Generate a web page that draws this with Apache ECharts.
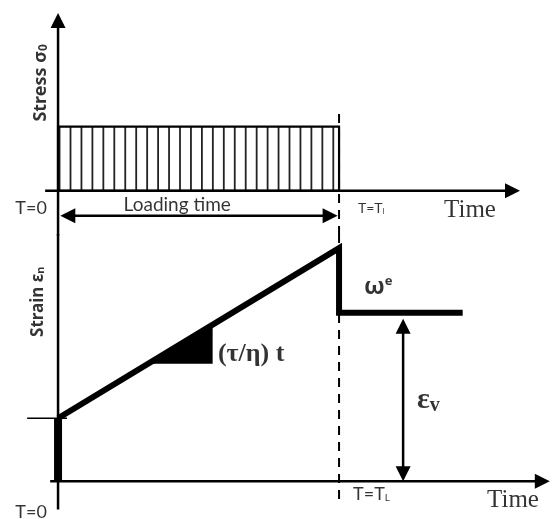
<!DOCTYPE html>
<html>
<head>
<meta charset="utf-8">
<script src="https://cdn.jsdelivr.net/npm/echarts@6/dist/echarts.min.js"></script>
<style>
  html, body { margin: 0; padding: 0; background: #fff; }
  #chart { width: 560px; height: 519px; }
</style>
</head>
<body>
<div id="chart"></div>
<script>
// Creep test: a constant stress σ0 held for the loading time, and the strain it produces.
const loadingTime = 10;                 // T = T_L
const stressLevel = 2;                  // σ0
const instantStrain = [0, 2];           // elastic jump at T = 0
const strainTimes = [0, 10, 10, 14.4];
const strainValues = [2, 7.4, 5.35, 5.35];
const slopeTriangle = [[3.2, 3.73], [5.5, 4.97], [5.5, 3.73]];
const viscousStrain = [12.28, 0, 5.16]; // time, from, to

// axis extents (time, value) for the two panels
const stressAxisX = [-0.46, 16.44];
const stressAxisY = [-1.4, 5.55];
const strainAxisX = [-0.28, 17.5];
const strainAxisY = [7.85, -0.9];

const SANS = 'Lato, "Noto Sans", "DejaVu Sans", sans-serif';
const BOLD_SANS = '"Noto Sans", "DejaVu Sans", sans-serif';
const SERIF = '"Liberation Serif", "DejaVu Serif", serif';

// straight segment with optional filled arrow heads at either end
function segmentSeries(gridIndex, rows, width, dash) {
  return {
    type: 'custom',
    xAxisIndex: gridIndex,
    yAxisIndex: gridIndex,
    silent: true,
    clip: false,
    data: rows,
    renderItem: function (params, api) {
      const a = api.coord([api.value(0), api.value(1)]);
      const b = api.coord([api.value(2), api.value(3)]);
      const headA = api.value(4), headB = api.value(5);
      const dx = b[0] - a[0], dy = b[1] - a[1];
      const len = Math.hypot(dx, dy) || 1;
      const ux = dx / len, uy = dy / len;
      const nx = -uy, ny = ux;
      const HL = 15, HW = 7.5;
      const s = headA ? [a[0] + ux * HL * 0.8, a[1] + uy * HL * 0.8] : a;
      const e = headB ? [b[0] - ux * HL * 0.8, b[1] - uy * HL * 0.8] : b;
      const children = [{
        type: 'line',
        shape: { x1: s[0], y1: s[1], x2: e[0], y2: e[1] },
        style: { stroke: '#000', lineWidth: width, lineDash: dash || null }
      }];
      function head(tip, sx, sy) {
        const bx = tip[0] - sx * HL, by = tip[1] - sy * HL;
        return {
          type: 'polygon',
          shape: { points: [tip, [bx + nx * HW, by + ny * HW], [bx - nx * HW, by - ny * HW]] },
          style: { fill: '#000' }
        };
      }
      if (headA) children.push(head(a, -ux, -uy));
      if (headB) children.push(head(b, ux, uy));
      return { type: 'group', children: children };
    }
  };
}

function labelSeries(gridIndex, items) {
  return {
    type: 'scatter',
    xAxisIndex: gridIndex,
    yAxisIndex: gridIndex,
    silent: true,
    clip: false,
    symbolSize: 0,
    data: items.map(function (it) {
      return {
        value: it.at,
        label: Object.assign({
          show: true,
          position: [0, 0],
          color: '#000',
          align: 'center',
          verticalAlign: 'middle'
        }, it.label)
      };
    })
  };
}

const chart = echarts.init(document.getElementById('chart'), null, { renderer: 'canvas' });

const option = {
  animation: false,
  backgroundColor: '#fff',
  grid: [
    { left: 44, top: 13, width: 505.8, height: 222.6 },
    { left: 44, top: 234, width: 505.8, height: 286 }
  ],
  xAxis: [
    { type: 'value', gridIndex: 0, min: -0.5, max: 17.5, show: false },
    { type: 'value', gridIndex: 1, min: -0.5, max: 17.5, show: false }
  ],
  yAxis: [
    { type: 'value', gridIndex: 0, min: -1.4, max: 5.55, show: false },
    { type: 'value', gridIndex: 1, min: -1.2, max: 7.85, show: false }
  ],
  series: [
    // stress block with vertical hatching
    {
      type: 'custom',
      xAxisIndex: 0,
      yAxisIndex: 0,
      silent: true,
      clip: false,
      data: [[0, loadingTime, stressLevel]],
      renderItem: function (params, api) {
        const tl = api.coord([api.value(0), api.value(2)]);
        const br = api.coord([api.value(1), 0]);
        const children = [];
        for (let x = tl[0] + 1.5; x < br[0] - 3; x += 10.95) {
          children.push({
            type: 'line',
            shape: { x1: x, y1: tl[1], x2: x, y2: br[1] },
            style: { stroke: '#222', lineWidth: 1.8 }
          });
        }
        children.push({
          type: 'rect',
          shape: { x: tl[0], y: tl[1], width: br[0] - tl[0], height: br[1] - tl[1] },
          style: { fill: 'none', stroke: '#000', lineWidth: 2.2 }
        });
        return { type: 'group', children: children };
      }
    },
    // stress panel axes
    segmentSeries(0, [
      [stressAxisX[0], 0, stressAxisX[1], 0, 0, 1],
      [0, stressAxisY[0], 0, stressAxisY[1], 0, 1]
    ], 2.5),
    // loading time arrow
    segmentSeries(0, [[0.08, -0.78, loadingTime - 0.05, -0.78, 1, 1]], 2.5),
    // end of loading (upper part)
    segmentSeries(0, [[loadingTime, 2.4, loadingTime, stressAxisY[0], 0, 0]], 2, [9, 7]),

    // strain panel axes
    segmentSeries(1, [
      [strainAxisX[0], 0, strainAxisX[1], 0, 0, 1],
      [0, strainAxisY[0], 0, strainAxisY[1], 0, 0]
    ], 2.5),
    // end of loading (lower part)
    segmentSeries(1, [[loadingTime, strainAxisY[0], loadingTime, -0.73, 0, 0]], 2, [9, 7]),
    // initial strain level tick
    segmentSeries(1, [[-1.1, instantStrain[1], 0.32, instantStrain[1], 0, 0]], 1.3),
    // viscous strain arrow
    segmentSeries(1, [[viscousStrain[0], viscousStrain[1], viscousStrain[0], viscousStrain[2], 1, 1]], 2.5),

    // instantaneous strain at loading
    {
      type: 'line',
      xAxisIndex: 1,
      yAxisIndex: 1,
      silent: true,
      symbol: 'none',
      data: instantStrain.map(function (v) { return [0, v]; }),
      lineStyle: { color: '#000', width: 8, cap: 'butt' }
    },
    // strain history
    {
      type: 'line',
      xAxisIndex: 1,
      yAxisIndex: 1,
      silent: true,
      symbol: 'none',
      data: strainTimes.map(function (t, i) { return [t, strainValues[i]]; }),
      lineStyle: { color: '#000', width: 6, join: 'miter', cap: 'butt' }
    },
    // slope triangle
    {
      type: 'custom',
      xAxisIndex: 1,
      yAxisIndex: 1,
      silent: true,
      clip: false,
      data: [[].concat.apply([], slopeTriangle)],
      renderItem: function (params, api) {
        const pts = [0, 1, 2].map(function (i) {
          return api.coord([api.value(2 * i), api.value(2 * i + 1)]);
        });
        return { type: 'polygon', shape: { points: pts }, style: { fill: '#000' } };
      }
    },

    labelSeries(0, [
      { at: [-0.62, 3.37], label: {
        rotate: 90,
        formatter: 'Stress σ{s|0}',
        fontFamily: BOLD_SANS, fontWeight: 'bold', fontSize: 18,
        rich: { s: { fontFamily: BOLD_SANS, fontWeight: 'bold', fontSize: 12, verticalAlign: 'bottom', lineHeight: 11 } }
      } },
      { at: [-0.96, -0.53], label: { formatter: 'T=0', fontFamily: SANS, fontSize: 18 } },
      { at: [4.24, -0.45], label: { formatter: 'Loading time', fontFamily: SANS, fontSize: 19 } },
      { at: [10.67, -0.56], label: {
        align: 'left',
        formatter: 'T=T{s|l}',
        fontFamily: SANS, fontSize: 14,
        rich: { s: { fontFamily: SANS, fontSize: 8, verticalAlign: 'bottom', lineHeight: 8 } }
      } },
      { at: [14.66, -0.62], label: { formatter: 'Time', fontFamily: SERIF, fontSize: 25 } }
    ]),

    labelSeries(1, [
      { at: [-0.72, 5.7], label: {
        rotate: 90,
        formatter: 'Strain ε{s|n}',
        fontFamily: BOLD_SANS, fontWeight: 'bold', fontSize: 17,
        rich: { s: { fontFamily: BOLD_SANS, fontWeight: 'bold', fontSize: 11, verticalAlign: 'bottom', lineHeight: 10 } }
      } },
      { at: [10.89, 6.17], label: {
        align: 'left',
        formatter: 'ω{s|e}',
        fontFamily: BOLD_SANS, fontWeight: 'bold', fontSize: 24,
        rich: { s: { fontFamily: BOLD_SANS, fontSize: 13, verticalAlign: 'top', lineHeight: 12 } }
      } },
      { at: [5.69, 4.02], label: {
        align: 'left',
        formatter: '(τ/η) t',
        fontFamily: SERIF, fontWeight: 'bold', fontSize: 26
      } },
      { at: [12.77, 2.56], label: {
        align: 'left',
        formatter: 'ε{s|v}',
        fontFamily: SERIF, fontWeight: 'bold', fontSize: 30,
        rich: { s: { fontFamily: SERIF, fontWeight: 'bold', fontSize: 20, verticalAlign: 'bottom', lineHeight: 14 } }
      } },
      { at: [10.5, -0.41], label: {
        align: 'left',
        formatter: 'T=T{s|L}',
        fontFamily: SANS, fontSize: 18,
        rich: { s: { fontFamily: SANS, fontSize: 10, verticalAlign: 'bottom', lineHeight: 9 } }
      } },
      { at: [16.19, -0.6], label: { formatter: 'Time', fontFamily: SERIF, fontSize: 25 } },
      { at: [-0.96, -0.98], label: { formatter: 'T=0', fontFamily: SANS, fontSize: 18 } }
    ])
  ]
};

chart.setOption(option);
</script>
</body>
</html>
